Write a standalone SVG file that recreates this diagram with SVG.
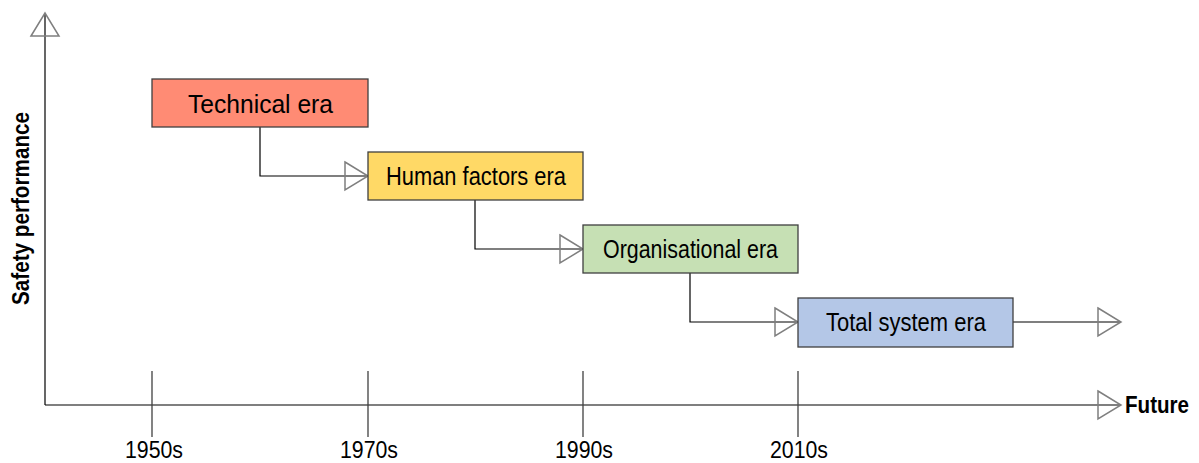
<svg xmlns="http://www.w3.org/2000/svg" width="1199" height="463" viewBox="0 0 1199 463">
<style>
.box{stroke:#3f3f3f;stroke-width:1.3}
.lbl{font-family:"Liberation Sans",Arial,sans-serif;font-size:25px;fill:#000;text-anchor:middle}
.yr{font-family:"Liberation Sans",Arial,sans-serif;font-size:23px;fill:#000;text-anchor:middle}
.bold{font-family:"Liberation Sans",Arial,sans-serif;font-size:24px;font-weight:bold;fill:#000}
.ln{stroke:#000;stroke-width:1.2;fill:none}
.tick{stroke:#404040;stroke-width:1.3}
</style>
<defs>
<marker id="ah" markerUnits="userSpaceOnUse" markerWidth="28" markerHeight="34" refX="24" refY="16" orient="auto" overflow="visible">
<path d="M1,2 L24,16 L1,30 Z" fill="none" stroke="#7f7f7f" stroke-width="1.5"/>
</marker>
</defs>
<g id="axes">
<line class="ln" x1="45" y1="405" x2="45" y2="13" marker-end="url(#ah)"/>
<line class="ln" x1="45" y1="405" x2="1121" y2="405" marker-end="url(#ah)"/>
<line class="tick" x1="152" y1="371" x2="152" y2="437"/>
<line class="tick" x1="368" y1="371" x2="368" y2="437"/>
<line class="tick" x1="583" y1="371" x2="583" y2="437"/>
<line class="tick" x1="798" y1="371" x2="798" y2="437"/>
<text class="yr" x="154" y="458" textLength="58" lengthAdjust="spacingAndGlyphs">1950s</text>
<text class="yr" x="369" y="458" textLength="58" lengthAdjust="spacingAndGlyphs">1970s</text>
<text class="yr" x="584" y="458" textLength="58" lengthAdjust="spacingAndGlyphs">1990s</text>
<text class="yr" x="799" y="458" textLength="58" lengthAdjust="spacingAndGlyphs">2010s</text>
<text class="bold" x="1125" y="413" textLength="64" lengthAdjust="spacingAndGlyphs">Future</text>
<text class="bold" transform="translate(29,305) rotate(-90)" x="0" y="0" textLength="193" lengthAdjust="spacingAndGlyphs">Safety performance</text>
</g>
<g id="connectors">
<polyline class="ln" points="260,127 260,176 368,176" marker-end="url(#ah)"/>
<polyline class="ln" points="475,200 475,249 583,249" marker-end="url(#ah)"/>
<polyline class="ln" points="690,273 690,322 798,322" marker-end="url(#ah)"/>
<line class="ln" x1="1013" y1="322" x2="1121" y2="322" marker-end="url(#ah)"/>
</g>
<g id="technical">
<rect class="box" x="152" y="79" width="216" height="48" fill="#ff8b74"/>
<text class="lbl" x="260.5" y="112.5" textLength="145" lengthAdjust="spacingAndGlyphs">Technical era</text>
</g>
<g id="human">
<rect class="box" x="368" y="152" width="215" height="48" fill="#ffd966"/>
<text class="lbl" x="476" y="185" textLength="180" lengthAdjust="spacingAndGlyphs">Human factors era</text>
</g>
<g id="organisational">
<rect class="box" x="583" y="225" width="215" height="48" fill="#c6e0b4"/>
<text class="lbl" x="690.5" y="258" textLength="175" lengthAdjust="spacingAndGlyphs">Organisational era</text>
</g>
<g id="total">
<rect class="box" x="798" y="298" width="215" height="49" fill="#b4c7e7"/>
<text class="lbl" x="906" y="331" textLength="160" lengthAdjust="spacingAndGlyphs">Total system era</text>
</g>
</svg>
